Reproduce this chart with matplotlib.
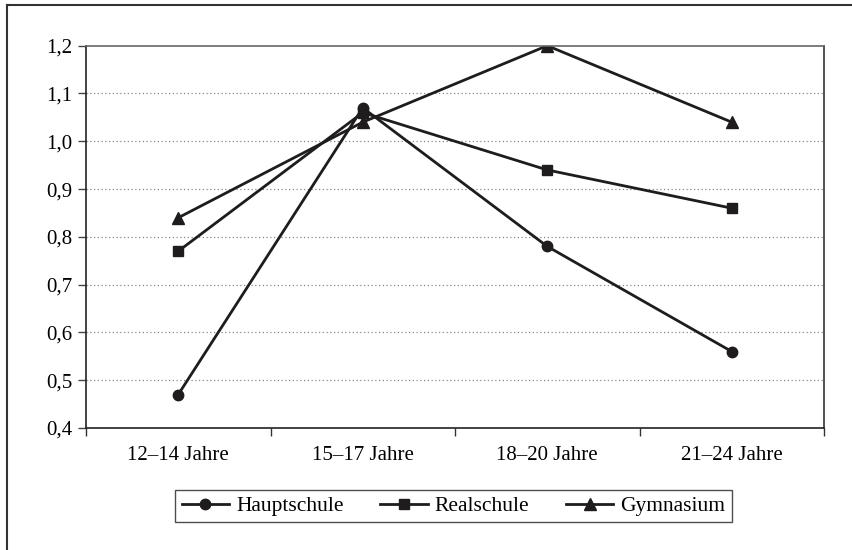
import matplotlib
matplotlib.use('Agg')
import matplotlib.pyplot as plt
from matplotlib.lines import Line2D

categories = ['12–14 Jahre', '15–17 Jahre', '18–20 Jahre', '21–24 Jahre']
hauptschule = [0.47, 1.07, 0.78, 0.56]
realschule = [0.77, 1.06, 0.94, 0.86]
gymnasium = [0.84, 1.04, 1.20, 1.04]
yticks = [0.4, 0.5, 0.6, 0.7, 0.8, 0.9, 1.0, 1.1, 1.2]

plt.rcParams['font.family'] = ['Liberation Serif', 'DejaVu Serif']
fs = 15

fig = plt.figure(figsize=(8.52, 5.5), dpi=100)
ax = fig.add_axes([86/852, 1 - 428/550, (824 - 86)/852, (428 - 45.7)/550])

x = list(range(len(categories)))
col = '#1e1c1c'
ax.plot(x, hauptschule, color=col, lw=2, marker='o', ms=7.5, label='Hauptschule')
ax.plot(x, realschule, color=col, lw=2, marker='s', ms=7.5, label='Realschule')
ax.plot(x, gymnasium, color=col, lw=2, marker='^', ms=8.5, label='Gymnasium')

ax.set_xlim(-0.5, 3.5)
ax.set_ylim(0.4, 1.2)
ax.set_yticks(yticks)
ax.set_yticklabels([('%.1f' % v).replace('.', ',') for v in yticks], fontsize=fs)
ax.set_xticks(x)
ax.set_xticklabels(categories, fontsize=fs)
ax.set_xticks([-0.5, 0.5, 1.5, 2.5, 3.5], minor=True)
ax.tick_params(axis='x', which='major', length=0, pad=13)
ax.tick_params(axis='x', which='minor', length=6, width=1, color='#333333')
ax.tick_params(axis='y', length=6, width=1, color='#444444', pad=4)

for v in yticks[1:-1]:
    ax.axhline(v, color='#888888', lw=0.9, ls=(0, (1, 2)), zorder=0)
ax.spines['top'].set_color('#666666')
ax.spines['right'].set_color('#333333')
ax.spines['left'].set_color('#222222')
ax.spines['bottom'].set_color('#222222')
for s in ax.spines.values():
    s.set_linewidth(1.2)

leg = fig.legend(loc='center', bbox_to_anchor=(453.5/852, 1 - 506/550),
                 ncol=3, fontsize=15.5, frameon=True, fancybox=False,
                 edgecolor='#222222', handlelength=2.2, borderaxespad=0, handletextpad=0.33,
                 columnspacing=1.7, borderpad=0.3)
leg.get_frame().set_linewidth(1)

# outer frame (left and top edges visible)
fig.add_artist(Line2D([7/852, 7/852], [0, 1 - 5/550], transform=fig.transFigure, color='#333333', lw=1.5))
fig.add_artist(Line2D([7/852, 1], [1 - 5/550, 1 - 5/550], transform=fig.transFigure, color='#333333', lw=1.5))

fig.savefig('out.png', dpi=100)
